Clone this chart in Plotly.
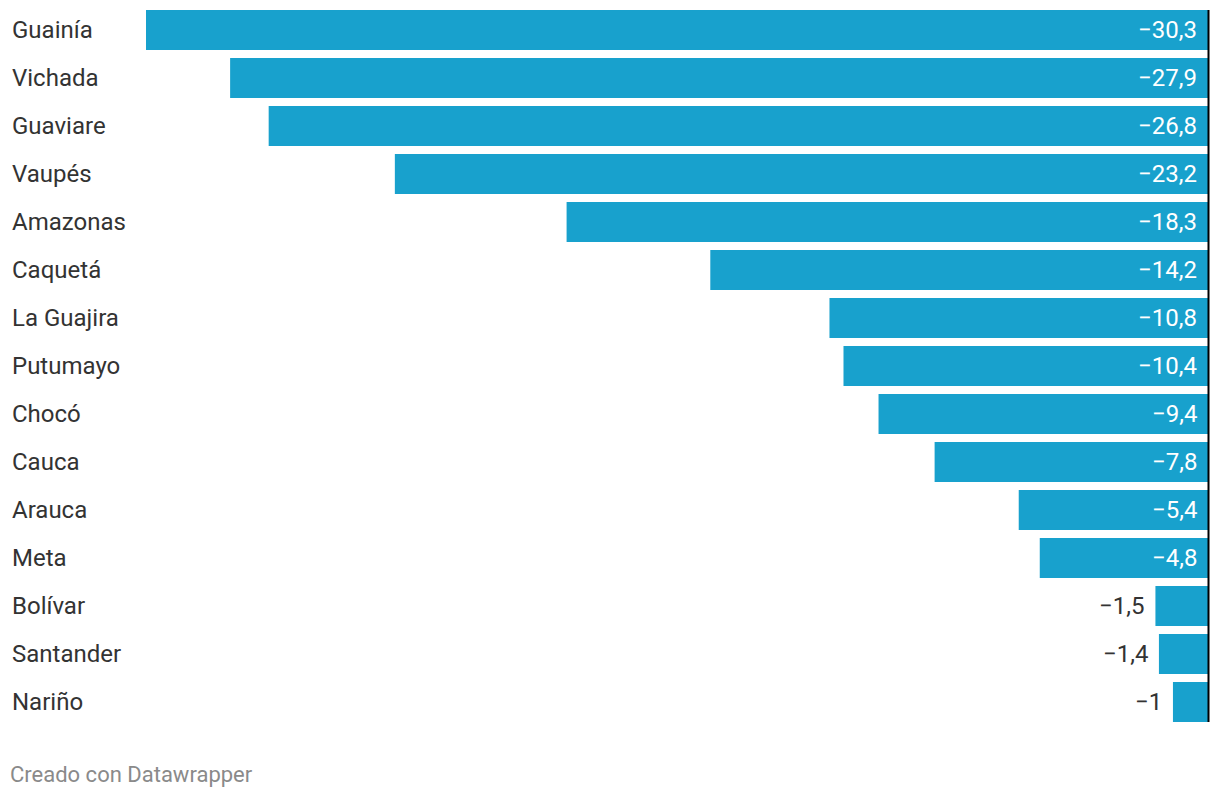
import plotly.graph_objects as go

departamentos = ["Guainía", "Vichada", "Guaviare", "Vaupés", "Amazonas", "Caquetá",
                 "La Guajira", "Putumayo", "Chocó", "Cauca", "Arauca", "Meta",
                 "Bolívar", "Santander", "Nariño"]
valores = [-30.3, -27.9, -26.8, -23.2, -18.3, -14.2, -10.8, -10.4, -9.4, -7.8,
           -5.4, -4.8, -1.5, -1.4, -1.0]

BAR = "#18a1cd"
TXT = "#333333"
FONT = "Roboto"

# page body has an 8px margin, so the figure is 8px smaller and offset
W, H = 1212, 790
L, R, T, B = 138, 12, 0, 72
PW = W - L - R
PH = H - T - B
PX = 48.0  # pixels per category

N = len(departamentos)
y_top = -0.5 + 2 / PX
y_bot = y_top + PH / PX


def fmt(v):
    s = f"{abs(v):.1f}".rstrip("0").rstrip(".").replace(".", ",")
    return "\u2212" + s


ys = list(range(N))

fig = go.Figure(go.Bar(
    x=valores, y=ys, orientation="h", marker=dict(color=BAR, line=dict(width=0)),
    hoverinfo="skip",
))

LS = 24
ann = []
for i, (d, v) in enumerate(zip(departamentos, valores)):
    ann.append(dict(x=(2 - L) / PW, xref="paper", y=i, yref="y", text=d,
                    xanchor="left", yanchor="middle", showarrow=False,
                    font=dict(family=FONT, size=LS, color=TXT)))
    if v <= -3:
        ann.append(dict(x=0, xref="x", y=i, yref="y", text=fmt(v), xanchor="right",
                        yanchor="middle", xshift=-9, showarrow=False,
                        font=dict(family=FONT, size=LS, color="white")))
    else:
        ann.append(dict(x=v, xref="x", y=i, yref="y", text=fmt(v), xanchor="right",
                        yanchor="middle", xshift=-9, showarrow=False,
                        font=dict(family=FONT, size=LS, color=TXT)))

ann.append(dict(x=(0 - L) / PW, xref="paper", y=-(766 - (T + PH)) / PH, yref="paper",
                text="Creado con Datawrapper", xanchor="left", yanchor="middle",
                showarrow=False, font=dict(family=FONT, size=22, color="#8a8a8a")))

fig.update_layout(
    width=W, height=H, margin=dict(l=L, r=R, t=T, b=B),
    paper_bgcolor="white", plot_bgcolor="white",
    bargap=8 / 48, showlegend=False,
    xaxis=dict(range=[-30.3, 0], visible=False, fixedrange=True),
    yaxis=dict(range=[y_bot, y_top], visible=False, fixedrange=True),
    annotations=ann,
    shapes=[dict(type="line", xref="paper", yref="y", x0=1 + 0.5 / PW, x1=1 + 0.5 / PW,
                 y0=-0.5 + 4 / 48, y1=N - 0.5 - 4 / 48,
                 line=dict(color="#000000", width=2))],
)

fig.write_html("out.html", config={"displayModeBar": False})
